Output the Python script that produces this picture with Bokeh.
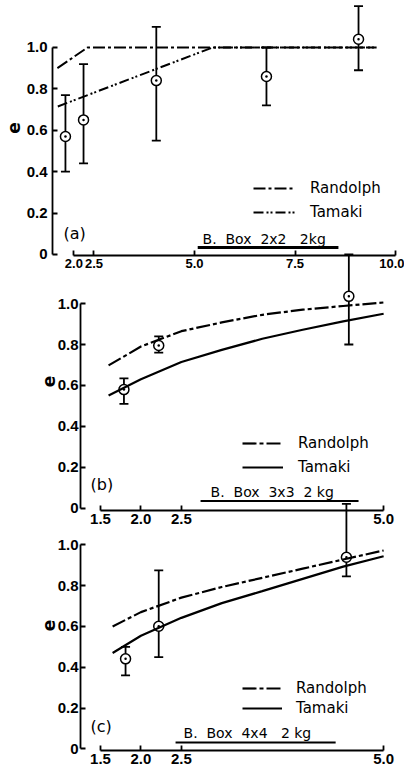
from bokeh.plotting import figure
from bokeh.models import (Range1d, Whisker, TeeHead, ColumnDataSource, Legend, LegendItem,
                          Label, FixedTicker)
from bokeh.layouts import column
from bokeh.embed import file_html
from bokeh.resources import INLINE

# ---------------- data ----------------
# panel (a)  B. Box 2x2 2kg
a_x = [1.79, 2.24, 4.05, 6.79, 9.08]
a_e = [0.57, 0.65, 0.84, 0.86, 1.04]
a_lo = [0.40, 0.44, 0.55, 0.72, 0.89]
a_hi = [0.77, 0.92, 1.10, 1.00, 1.20]
a_rand_x = [1.59, 2.34, 9.53]
a_rand_e = [0.90, 1.00, 1.00]
a_tam_x = [1.60, 5.45, 9.53]
a_tam_e = [0.715, 1.00, 1.00]
a_ticks = [2.0, 2.5, 5.0, 7.5, 10.0]
a_tick_labels = ["2.0", "2.5", "5.0", "7.5", "10.0"]

# panel (b)  B. Box 3x3 2 kg
b_x = [1.79, 2.22, 4.57]
b_e = [0.58, 0.795, 1.035]
b_lo = [0.51, 0.76, 0.80]
b_hi = [0.635, 0.84, 1.24]
b_curve_x = [1.6, 2.0, 2.5, 3.0, 3.5, 4.0, 4.5, 5.0]
b_rand_e = [0.698, 0.79, 0.865, 0.908, 0.945, 0.97, 0.988, 1.005]
b_tam_e = [0.551, 0.63, 0.715, 0.774, 0.828, 0.872, 0.913, 0.95]

# panel (c)  B. Box 4x4 2 kg
c_x = [1.81, 2.22, 4.54]
c_e = [0.441, 0.601, 0.939]
c_lo = [0.36, 0.45, 0.845]
c_hi = [0.50, 0.875, 1.20]
c_curve_x = [1.65, 2.0, 2.5, 3.0, 3.5, 4.0, 4.5, 5.0]
c_rand_e = [0.60, 0.67, 0.741, 0.793, 0.838, 0.883, 0.928, 0.972]
c_tam_e = [0.47, 0.554, 0.642, 0.714, 0.773, 0.833, 0.893, 0.944]

bc_ticks = [1.5, 2.0, 2.5, 5.0]
bc_tick_labels = ["1.5", "2.0", "2.5", "5.0"]
y_ticks = [0, 0.2, 0.4, 0.6, 0.8, 1.0]
y_tick_labels = ["0", "0.2", "0.4", "0.6", "0.8", "1.0"]

TICK_FONT = "Liberation Sans"
TEXT_FONT = "DejaVu Sans"


def make_panel(height, xr, yr, mb_left, mb_right, mb_bottom, xticks, xlabels,
               ystandoff, label_standoff, xsize):
    p = figure(width=404, height=height, x_range=Range1d(*xr), y_range=Range1d(*yr),
               output_backend="svg", toolbar_location=None,
               min_border_left=mb_left, min_border_right=mb_right,
               min_border_top=0, min_border_bottom=mb_bottom)
    p.frame_align = False
    p.grid.visible = False
    p.outline_line_color = None
    p.background_fill_color = None
    p.border_fill_color = None
    xa = p.xaxis[0]
    ya = p.yaxis[0]
    xa.ticker = FixedTicker(ticks=xticks)
    xa.major_label_overrides = {t: l for t, l in zip(xticks, xlabels)}
    xa.bounds = (xticks[0], xticks[-1])
    xa.major_label_standoff = 3
    ya.ticker = FixedTicker(ticks=y_ticks)
    ya.major_label_overrides = {t: l for t, l in zip(y_ticks, y_tick_labels)}
    ya.bounds = (0, 1.0)
    ya.major_label_standoff = ystandoff
    ya.axis_label = "e"
    ya.axis_label_standoff = label_standoff
    ya.axis_label_text_font = TEXT_FONT
    ya.axis_label_text_font_size = "17px"
    ya.axis_label_text_font_style = "bold"
    ya.axis_label_text_color = "black"
    for ax in (xa, ya):
        ax.axis_line_width = 1.8
        ax.axis_line_color = "black"
        ax.major_tick_line_width = 1.8
        ax.major_tick_line_color = "black"
        ax.minor_tick_line_color = None
        ax.major_tick_in = 5
        ax.major_tick_out = 0
        ax.major_label_text_font = TICK_FONT
        ax.major_label_text_font_style = "bold"
        ax.major_label_text_color = "black"
    ya.major_label_text_font_size = "15px"
    xa.major_label_text_font_size = xsize
    return p


def add_data(p, xs, es, lo, hi):
    src = ColumnDataSource(dict(x=xs, e=es, lo=lo, hi=hi))
    w = Whisker(base="x", upper="hi", lower="lo", source=src, line_width=1.8,
                line_color="black",
                upper_head=TeeHead(size=9, line_width=1.8, line_color="black"),
                lower_head=TeeHead(size=9, line_width=1.8, line_color="black"))
    w.level = "underlay"
    p.add_layout(w)
    p.scatter("x", "e", source=src, marker="circle_dot", size=10, line_width=1.5,
              fill_color="white", line_color="black")


def add_legend(p, r1, r2, loc, gw, standoff, spacing):
    leg = Legend(items=[LegendItem(label="Randolph", renderers=[r1]),
                        LegendItem(label="Tamaki", renderers=[r2])],
                 location=loc, orientation="vertical", glyph_width=gw, glyph_height=20,
                 label_height=20, spacing=spacing, padding=0, margin=0,
                 label_standoff=standoff, border_line_color=None,
                 background_fill_alpha=0, label_text_font=TEXT_FONT,
                 label_text_font_size="15px", label_text_color="black")
    p.add_layout(leg)


def add_text(p, x, y, text, size="15px", align="left"):
    p.add_layout(Label(x=x, y=y, text=text, text_font=TEXT_FONT, text_font_size=size,
                       text_align=align, text_baseline="middle", text_color="black"))


NB = "\u00a0"

# ---------------- panel (a) ----------------
pa = make_panel(290, (1.468, 10.124), (-0.005, 1.227), 52, 4, 35, a_ticks, a_tick_labels,
                5, 4, "13px")
add_data(pa, a_x, a_e, a_lo, a_hi)
ra1 = pa.line(a_rand_x, a_rand_e, line_color="black", line_width=2, line_dash="12 3 3 3")
ra2 = pa.line(a_tam_x, a_tam_e, line_color="black", line_width=2, line_dash="10 3 2 2 2 3")
add_legend(pa, ra1, ra2, (201, 33), 42, 15, 4)
add_text(pa, 1.74, 0.10, "(a)", "16px")
add_text(pa, 5.20, 0.077, "B." + NB * 2 + "Box" + NB * 2 + "2x2" + NB * 3 + "2kg", "14px")
pa.segment(x0=[5.08], y0=[0.034], x1=[8.58], y1=[0.034], line_width=3, line_color="black")
add_text(pa, 7.19, -0.13, "s/d", "16px", "center")

# ---------------- panel (b) ----------------
pb = make_panel(288, (1.253, 5.085), (-0.01, 1.249), 80, 14, 30, bc_ticks, bc_tick_labels,
                2, 0, "15px")
add_data(pb, b_x, b_e, b_lo, b_hi)
rb1 = pb.line(b_curve_x, b_rand_e, line_color="black", line_width=2.2, line_dash="14 3 4 3")
rb2 = pb.line(b_curve_x, b_tam_e, line_color="black", line_width=2.2)
add_legend(pb, rb1, rb2, (162, 33), 41, 15, 4)
add_text(pb, 1.377, 0.117, "(b)", "16px")
add_text(pb, 2.861, 0.078, "B." + NB * 2 + "Box" + NB * 2 + "3x3" + NB * 2 + "2" + NB + "kg", "14px")
pb.segment(x0=[2.737], y0=[0.036], x1=[4.69], y1=[0.036], line_width=2, line_color="black")
add_text(pb, 3.665, -0.098, "s/d", "16px", "center")
pb.margin = (-38, 0, 0, 0)

# ---------------- panel (c) ----------------
pc = make_panel(273, (1.253, 5.085), (-0.008, 1.217), 80, 14, 23, bc_ticks, bc_tick_labels,
                2, 0, "15px")
add_data(pc, c_x, c_e, c_lo, c_hi)
rc1 = pc.line(c_curve_x, c_rand_e, line_color="black", line_width=2.2, line_dash="14 3 4 3")
rc2 = pc.line(c_curve_x, c_tam_e, line_color="black", line_width=2.2)
add_legend(pc, rc1, rc2, (162, 32), 40, 14, 0)
add_text(pc, 1.377, 0.109, "(c)", "16px")
add_text(pc, 2.527, 0.080, "B." + NB * 2 + "Box" + NB * 2 + "4x4" + NB * 3 + "2" + NB + "kg", "14px")
pc.segment(x0=[2.428], y0=[0.031], x1=[4.407], y1=[0.031], line_width=2, line_color="black")
add_text(pc, 3.566, -0.072, "s/d", "15px", "center")
pc.margin = (-40, 0, 0, 0)

layout = column(pa, pb, pc)
open("out.html", "w").write(file_html(layout, INLINE))
